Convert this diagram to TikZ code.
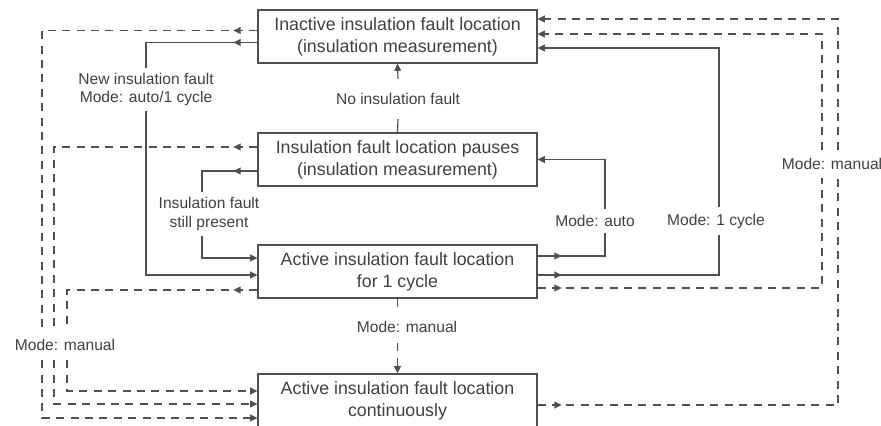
\documentclass[tikz,border=0pt]{standalone}
\usepackage{fontspec}
\setmainfont{Liberation Sans}
\usetikzlibrary{arrows.meta,decorations.markings}
\definecolor{txtgray}{HTML}{404040}
\definecolor{lingray}{HTML}{505050}

\begin{document}
\begin{tikzpicture}[x=0.5pt,y=-0.5pt,
  >={Triangle[length=3.6pt,width=3.4pt]},
  box/.style={draw=lingray,line width=0.6pt,minimum width=139.5pt,minimum height=26.5pt,
    inner sep=0pt,align=center,text=txtgray,font=\fontsize{8.9}{11}\selectfont},
  lbl/.style={align=center,text=txtgray,inner xsep=1pt,inner ysep=3pt,
    font=\fontsize{7.8}{9.3}\selectfont},
  flow/.style={lingray,line width=0.6pt},
  man/.style={flow,dash pattern=on 4pt off 3.2pt},
  srcmark/.style={postaction={decorate,decoration={markings,
    mark=at position 12pt with {\arrow{>}}}}}]
\useasboundingbox (0,0) rectangle (881,425);

% states
\node[box] (inactive) at (397.5,36.5) {Inactive insulation fault location\\(insulation measurement)};
\node[box] (pause) at (397.5,159.5) {Insulation fault location pauses\\(insulation measurement)};
\node[box] (active1) at (397.5,271.5) {Active insulation fault location\\for 1 cycle};
\node[box] (contin) at (397.5,400.5) {Active insulation fault location\\continuously};

% labels
\node[lbl,inner ysep=7pt] (nofault) at (398,99) {No insulation fault};
\node[lbl,inner ysep=2.5pt] (newfault) at (146,89.5) {New insulation fault\\Mode: auto/1 cycle};
\node[lbl,inner ysep=2.5pt] (stillpres) at (209,214) {Insulation fault\\still present};
\node[lbl,inner ysep=5pt] (midman) at (407,327) {Mode: manual};
\node[lbl,inner ysep=4.5pt] (leftman) at (65,345) {Mode: manual};
\node[lbl,inner ysep=4pt] (rightman) at (832,164) {Mode: manual};
\node[lbl] (auto) at (595,221) {Mode: auto};
\node[lbl] (onecycle) at (716,221) {Mode: 1 cycle};

% lanes
\coordinate (lA) at (42,0);
\coordinate (lB) at (54,0);
\coordinate (lC) at (67,0);
\coordinate (lD) at (146,0);
\coordinate (lE) at (202,0);
\coordinate (rA) at (605,0);
\coordinate (rB) at (719,0);
\coordinate (rC) at (822,0);
\coordinate (rD) at (838,0);

% middle
\draw[flow] (pause.north) -- (nofault.south);
\draw[flow,->] (nofault.north) -- (inactive.south);
\draw[man] (active1.south) -- (midman.north -| active1.south);
\draw[man,->] (midman.south -| active1.south) -- (contin.north);

% left side
\draw[man,srcmark] ([yshift=3pt]inactive.west) -| (leftman.north -| lA);
\draw[man,->] (leftman.south -| lA) |- ([yshift=-8.75pt]contin.west);
\draw[flow,srcmark] ([yshift=-3pt]inactive.west) -| (newfault.north -| lD);
\draw[flow,->] (newfault.south -| lD) |- ([yshift=-1.75pt]active1.west);
\draw[man,srcmark] ([yshift=6.25pt]pause.west) -| (leftman.north -| lB);
\draw[man,->] (leftman.south -| lB) |- ([yshift=-1.75pt]contin.west);
\draw[flow,srcmark] ([yshift=-5.75pt]pause.west) -| (stillpres.north -| lE);
\draw[flow,->] (stillpres.south -| lE) |- ([yshift=6.75pt]active1.west);
\draw[man,srcmark] ([yshift=-9.25pt]active1.west) -| (leftman.north -| lC);
\draw[man,->] (leftman.south -| lC) |- ([yshift=4.75pt]contin.west);

% right side
\draw[flow,srcmark] ([yshift=7.75pt]active1.east) -| (auto.south -| rA);
\draw[flow,->] (auto.north -| rA) |- (pause.east);
\draw[flow,srcmark] ([yshift=-1.75pt]active1.east) -| (onecycle.south -| rB);
\draw[flow,->] (onecycle.north -| rB) |- ([yshift=-5.75pt]inactive.east);
\draw[man,srcmark] ([yshift=-8.25pt]active1.east) -| (rightman.south -| rC);
\draw[man,->] (rightman.north -| rC) |- ([yshift=1.25pt]inactive.east);
\draw[man,srcmark] ([yshift=-2.25pt]contin.east) -| (rightman.south -| rD);
\draw[man,->] (rightman.north -| rD) |- ([yshift=8.75pt]inactive.east);
\end{tikzpicture}
\end{document}
